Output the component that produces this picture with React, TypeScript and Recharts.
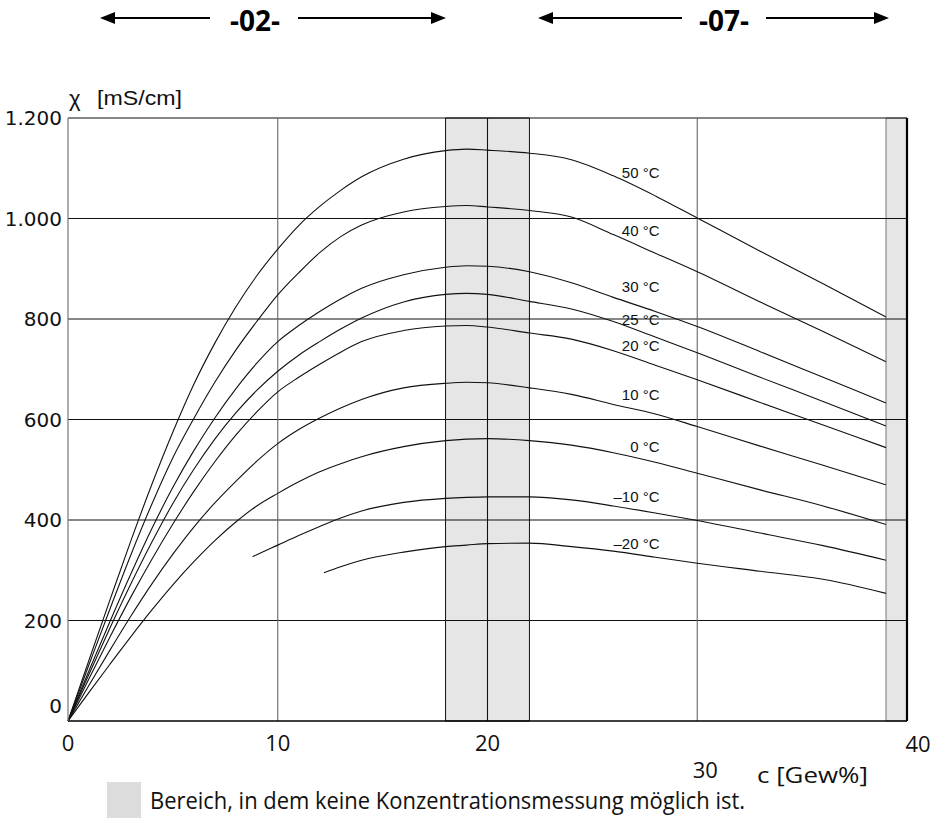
import { LineChart, Line, XAxis, YAxis, ReferenceArea, ReferenceLine, ReferenceDot } from "recharts";

// concentration grid, c [Gew%]
const conc = [0, 1, 2, 3, 4, 5, 6, 7, 8, 8.8, 9, 10, 11, 12, 12.2, 13, 14, 16, 18, 19, 20, 22, 24, 26, 28, 30, 33, 36, 39];

// conductivity χ [mS/cm] per temperature
const t50 = [0, 121, 241, 359, 471, 575, 670, 752, 824, null, 886, 939, 986, 1024, null, 1056, 1083, 1118, 1135, 1138, 1136, 1130, 1117, 1085, 1045, 1001, 935, 870, 804];
const t40 = [0, 112, 223, 331, 432, 524, 602, 674, 738, null, 795, 848, 892, 932, null, 964, 987, 1013, 1024, 1026, 1023, 1016, 1003, 968, 931, 894, 834, 775, 715];
const t30 = [0, 100, 198, 293, 383, 465, 538, 603, 661, null, 712, 755, 787, 815, null, 840, 861, 888, 903, 906, 905, 894, 872, 843, 815, 785, 735, 684, 633];
const t25 = [0, 93, 185, 273, 356, 433, 501, 561, 613, null, 658, 696, 728, 755, null, 780, 802, 834, 849, 851, 849, 835, 820, 795, 764, 733, 684, 636, 587];
const t20 = [0, 84, 167, 247, 322, 392, 457, 516, 569, null, 615, 655, 684, 710, null, 734, 755, 777, 786, 787, 784, 772, 760, 737, 708, 679, 634, 589, 544];
const t10 = [0, 71, 141, 209, 273, 332, 386, 434, 477, null, 517, 552, 580, 603, null, 623, 640, 663, 672, 674, 673, 663, 650, 630, 611, 586, 547, 509, 470];
const t0 = [0, 57, 113, 168, 221, 271, 317, 359, 396, null, 428, 453, 476, 496, null, 512, 526, 546, 558, 561, 562, 558, 549, 534, 515, 493, 460, 428, 391];
const tm10 = [null, null, null, null, null, null, null, null, null, 327, 331, 350, 369, 387, null, 404, 418, 435, 443, 445, 446, 446, 440, 428, 414, 399, 374, 349, 320];
const tm20 = [null, null, null, null, null, null, null, null, null, null, null, null, null, null, 295, 307, 320, 336, 347, 350, 353, 354, 347, 338, 326, 314, 298, 282, 254];

const seriesKeys = ["t50", "t40", "t30", "t25", "t20", "t10", "t0", "tm10", "tm20"];
const seriesNames = ["50 °C", "40 °C", "30 °C", "25 °C", "20 °C", "10 °C", "0 °C", "–10 °C", "–20 °C"];

const xTicks = [0, 10, 20, 30, 40];
const yTicks = [0, 200, 400, 600, 800, 1000, 1200];

// where the temperature names sit (data coords, right-aligned)
const labelX = 28.2;
const labelY = [1091, 977, 864, 800, 748, 649, 547, 446, 354];

const data = conc.map((c, i) => ({
  c,
  t50: t50[i],
  t40: t40[i],
  t30: t30[i],
  t25: t25[i],
  t20: t20[i],
  t10: t10[i],
  t0: t0[i],
  tm10: tm10[i],
  tm20: tm20[i],
}));

const SANS = "'Liberation Sans', Arial, Helvetica, sans-serif";

function fmtDe(v: number) {
  if (v >= 1000) return `${Math.floor(v / 1000)}.${String(v % 1000).padStart(3, "0")}`;
  return String(v);
}

function YTick({ x, y, payload }: any) {
  const dy = payload.value === 0 ? -15 : 0;
  return (
    <text x={x} y={y + dy} textAnchor="end" dominantBaseline="central" fontFamily="DejaVu Sans" fontSize={20} fill="#111">
      {fmtDe(payload.value)}
    </text>
  );
}

function XTick({ x, y, payload }: any) {
  const shift: Record<number, [number, number]> = { 30: [8, 27], 40: [11, 1] };
  const [dx, dy] = shift[payload.value] || [0, 0];
  return (
    <text x={x + dx} y={y + 19 + dy} textAnchor="middle" dominantBaseline="central" fontFamily="'Open Sans', sans-serif" fontSize={22} fill="#111">
      {payload.value}
    </text>
  );
}

function Arrow({ x1, x2, y }: { x1: number; x2: number; y: number }) {
  return (
    <g>
      <line x1={x1 + 10} y1={y} x2={x2 - 10} y2={y} stroke="#000" strokeWidth={2} />
      <polygon points={`${x1},${y} ${x1 + 15},${y - 6} ${x1 + 15},${y + 6}`} fill="#000" />
      <polygon points={`${x2},${y} ${x2 - 15},${y - 6} ${x2 - 15},${y + 6}`} fill="#000" />
    </g>
  );
}

export default function App() {
  return (
    <div style={{ position: "absolute", left: 0, top: 0, width: 938, height: 827, background: "#fff" }}>
      <LineChart width={938} height={827} data={data} margin={{ top: 118, right: 31, bottom: 76, left: 0 }}>
        <XAxis
          dataKey="c"
          type="number"
          domain={[0, 40]}
          ticks={xTicks}
          tickLine={false}
          tickSize={0}
          axisLine={{ stroke: "#000", strokeWidth: 1.6 }}
          tick={<XTick />}
          height={30}
        />
        <YAxis
          type="number"
          domain={[0, 1200]}
          ticks={yTicks}
          tickLine={false}
          tickSize={0}
          tickMargin={6}
          axisLine={{ stroke: "#777", strokeWidth: 1.2 }}
          tick={<YTick />}
          width={68}
        />
        <ReferenceArea x1={18} x2={22} y1={0} y2={1200} fill="#e6e6e6" fillOpacity={1} stroke="#111" strokeWidth={1} />
        <ReferenceArea x1={39} x2={40} y1={0} y2={1200} fill="#e6e6e6" fillOpacity={1} stroke="#777" strokeWidth={1} />
        {yTicks.slice(1).map((v) => (
          <ReferenceLine key={`h${v}`} y={v} stroke="#111" strokeWidth={1.1} />
        ))}
        <ReferenceLine x={10} stroke="#666" strokeWidth={1.1} />
        <ReferenceLine x={20} stroke="#111" strokeWidth={1.1} />
        <ReferenceLine x={30} stroke="#666" strokeWidth={1.1} />
        <ReferenceLine x={40} stroke="#000" strokeWidth={2.2} />
        {seriesKeys.map((k) => (
          <Line
            key={k}
            dataKey={k}
            type="monotone"
            stroke="#111"
            strokeWidth={1.1}
            dot={false}
            activeDot={false}
            connectNulls
            isAnimationActive={false}
          />
        ))}
        {seriesNames.map((n, i) => (
          <ReferenceDot
            key={n}
            x={labelX}
            y={labelY[i]}
            r={0}
            shape={(p: any) => (
              <text x={p.cx} y={p.cy} textAnchor="end" dominantBaseline="central" fontFamily={SANS} fontSize={15} fill="#111">
                {n}
              </text>
            )}
          />
        ))}
      </LineChart>
      <svg width={938} height={827} style={{ position: "absolute", left: 0, top: 0, pointerEvents: "none" }}>
        <Arrow x1={100} x2={446} y={18} />
        <rect x={210} y={2} width={88} height={34} fill="#fff" />
        <text x={255} y={20} textAnchor="middle" dominantBaseline="central" fontFamily="'Open Sans', sans-serif" fontWeight={700} fontSize={28} fill="#000">
          -02-
        </text>
        <Arrow x1={538} x2={889} y={18} />
        <rect x={682} y={2} width={84} height={34} fill="#fff" />
        <text x={724} y={20} textAnchor="middle" dominantBaseline="central" fontFamily="'Open Sans', sans-serif" fontWeight={700} fontSize={28} fill="#000">
          -07-
        </text>
        <text x={69} y={106} fontFamily={SANS} fontSize={22} fill="#111">χ</text>
        <text x={97} y={105} fontFamily={SANS} fontSize={21} fill="#111" textLength={85} lengthAdjust="spacingAndGlyphs">
          [mS/cm]
        </text>
        <text x={757} y={783} fontFamily="'Open Sans', sans-serif" fontSize={22} fill="#111" textLength={111} lengthAdjust="spacingAndGlyphs">
          c [Gew%]
        </text>
        <rect x={107} y={782} width={34} height={36} fill="#dcdcdc" />
        <text x={150} y={809} fontFamily="'Open Sans', sans-serif" fontSize={24} fill="#111" textLength={595} lengthAdjust="spacingAndGlyphs">
          Bereich, in dem keine Konzentrationsmessung möglich ist.
        </text>
      </svg>
    </div>
  );
}
